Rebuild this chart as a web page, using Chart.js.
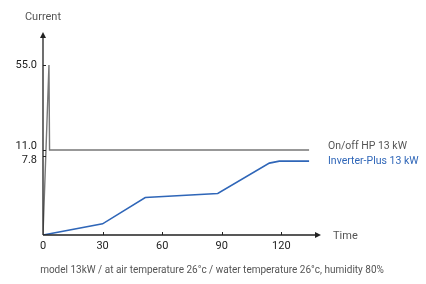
<!DOCTYPE html>
<html>
<head>
<meta charset="utf-8">
<script src="https://cdn.jsdelivr.net/npm/chart.js@4"></script>
<style>
  html, body { margin: 0; padding: 0; background: #fff; }
  #wrap { width: 426px; height: 284px; position: relative; }
</style>
</head>
<body>
<div id="wrap"><canvas id="chart" width="426" height="284"></canvas></div>
<script>
// time (minutes) and current readings
const onoffTime = [0, 3, 3.3, 134];
const onoffCurrent = [0, 55, 11, 11];
const inverterTime = [0, 30, 51.5, 88, 114, 119, 134];
const inverterCurrent = [0, 1.1, 3.7, 4.1, 7.1, 7.3, 7.3];
const yTickValues = [0, 7.8, 11.0, 55.0];
const xTickValues = [0, 30, 60, 90, 120];
const seriesNames = ['On/off HP 13 kW', 'Inverter-Plus 13 kW'];
const caption = 'model 13kW / at air temperature 26°c / water temperature 26°c, humidity 80%';

// the y axis in the original is schematic, not linear
const yBreaks = [0, 7.8, 11, 55, 70];
const yFracs = [0, 0.389, 0.419, 0.837, 1];

function interp(v, xs, ys) {
  if (v <= xs[0]) return ys[0];
  for (let i = 1; i < xs.length; i++) {
    if (v <= xs[i]) {
      return ys[i - 1] + (v - xs[i - 1]) / (xs[i] - xs[i - 1]) * (ys[i] - ys[i - 1]);
    }
  }
  return ys[ys.length - 1];
}

class PiecewiseScale extends Chart.LinearScale {
  getPixelForValue(value) {
    if (value === null || value === undefined) return NaN;
    const f = interp(value, yBreaks, yFracs);
    return this.bottom - f * (this.bottom - this.top);
  }
  getValueForPixel(pixel) {
    const f = (this.bottom - pixel) / (this.bottom - this.top);
    return interp(f, yFracs, yBreaks);
  }
}
PiecewiseScale.id = 'piecewise';
PiecewiseScale.defaults = Chart.LinearScale.defaults;
Chart.register(PiecewiseScale);

const toPoints = (xs, ys) => xs.map((x, i) => ({ x: x, y: ys[i] }));

const FONT = 'Roboto, "DejaVu Sans", sans-serif';

const axesPlugin = {
  id: 'axesPlugin',
  afterDraw(chart) {
    const ctx = chart.ctx;
    const xs = chart.scales.x, ys = chart.scales.y;
    const x0 = xs.getPixelForValue(0), y0 = ys.getPixelForValue(0);
    const top = chart.chartArea.top, right = chart.chartArea.right;
    ctx.save();
    ctx.strokeStyle = '#222';
    ctx.fillStyle = '#222';
    ctx.lineWidth = 1.3;
    ctx.beginPath();
    ctx.moveTo(x0, y0); ctx.lineTo(x0, top + 4);
    ctx.moveTo(x0, y0); ctx.lineTo(right - 4, y0);
    ctx.stroke();
    // arrow heads
    ctx.beginPath();
    ctx.moveTo(x0, top); ctx.lineTo(x0 - 3, top + 6); ctx.lineTo(x0 + 3, top + 6); ctx.closePath();
    ctx.fill();
    ctx.beginPath();
    ctx.moveTo(right, y0); ctx.lineTo(right - 6, y0 - 3); ctx.lineTo(right - 6, y0 + 3); ctx.closePath();
    ctx.fill();
    // tick marks
    ctx.lineWidth = 1;
    ctx.beginPath();
    xTickValues.slice(1).forEach(v => {
      const px = Math.round(xs.getPixelForValue(v)) + 0.5;
      ctx.moveTo(px, y0); ctx.lineTo(px, y0 - 3);
    });
    yTickValues.slice(1).forEach(v => {
      const py = Math.round(ys.getPixelForValue(v)) + 0.5;
      ctx.moveTo(x0, py); ctx.lineTo(x0 + 3, py);
    });
    ctx.stroke();

    // y tick labels, nudged apart like the original
    ctx.font = '11px ' + FONT;
    ctx.fillStyle = '#222';
    ctx.textAlign = 'right';
    ctx.textBaseline = 'middle';
    const nudge = { 7.8: 4, 11: -4 };
    yTickValues.slice(1).forEach(v => {
      const py = ys.getPixelForValue(v) + (nudge[v] || 0);
      ctx.fillText(v.toFixed(1), x0 - 6, py);
    });

    // axis titles
    ctx.fillStyle = '#555';
    ctx.font = '11px ' + FONT;
    ctx.textAlign = 'center';
    ctx.fillText('Current', 43, 17);
    ctx.textAlign = 'left';
    ctx.fillText('Time', 333, y0 + 1);

    // series labels at line ends
    ctx.font = '10.5px ' + FONT;
    const colors = ['#555', '#2f66b8'];
    const offs = [-4, 0];
    chart.data.datasets.forEach((ds, i) => {
      const meta = chart.getDatasetMeta(i);
      const last = meta.data[meta.data.length - 1];
      ctx.fillStyle = colors[i];
      ctx.fillText(seriesNames[i], 328, last.y + offs[i]);
    });

    // caption
    ctx.fillStyle = '#555';
    ctx.font = '10px ' + FONT;
    ctx.textAlign = 'center';
    ctx.fillText(caption, 212, 270);
    ctx.restore();
  }
};

new Chart(document.getElementById('chart').getContext('2d'), {
  type: 'line',
  data: {
    datasets: [{
      label: seriesNames[0],
      data: toPoints(onoffTime, onoffCurrent),
      borderColor: '#777',
      borderWidth: 1.4,
      pointRadius: 0,
      tension: 0,
      fill: false
    }, {
      label: seriesNames[1],
      data: toPoints(inverterTime, inverterCurrent),
      borderColor: '#2f66b8',
      borderWidth: 1.6,
      pointRadius: 0,
      tension: 0,
      fill: false
    }]
  },
  plugins: [axesPlugin],
  options: {
    responsive: false,
    animation: false,
    layout: { padding: { left: 0, right: 105, top: 32, bottom: 0 } },
    plugins: {
      legend: { display: false },
      tooltip: { enabled: false }
    },
    scales: {
      x: {
        type: 'linear',
        min: 0,
        max: 140,
        afterBuildTicks: s => { s.ticks = xTickValues.map(v => ({ value: v })); },
        afterFit: s => { s.height = 49; },
        grid: { display: false, drawTicks: false },
        border: { display: false },
        ticks: {
          color: '#222',
          font: { family: FONT, size: 11 },
          padding: 5,
          maxRotation: 0,
          autoSkip: false
        }
      },
      y: {
        type: 'piecewise',
        min: 0,
        max: 70,
        afterFit: s => { s.width = 43; },
        grid: { display: false, drawTicks: false },
        border: { display: false },
        ticks: { display: false }
      }
    }
  }
});
</script>
</body>
</html>
